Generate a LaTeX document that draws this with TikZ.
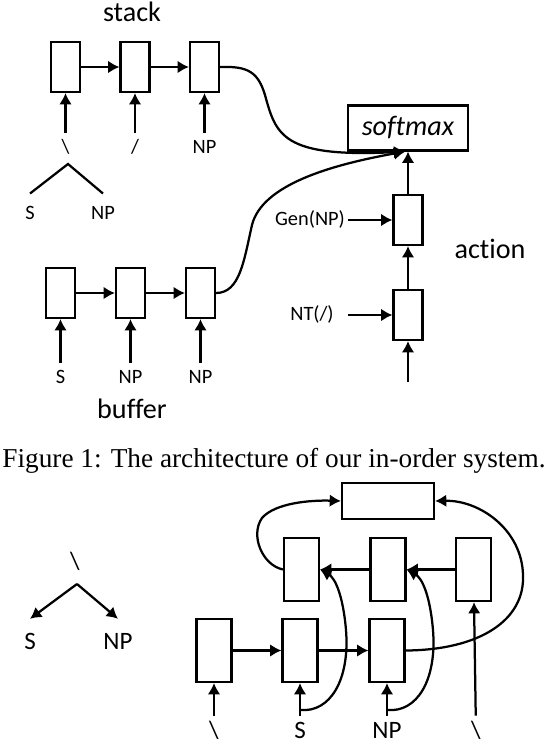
\documentclass[tikz,border=0pt]{standalone}
\usepackage{fontspec}
\setmainfont{Liberation Serif}
\newfontfamily\calibfont[Ligatures={NoCommon}]{Carlito}
\usetikzlibrary{arrows.meta}
\tikzset{
    cell/.style={
    rectangle,draw=black,line width=1.8pt,inner sep=0pt,
    minimum width=0.715cm,minimum height=1.24cm
    },
    tallcell/.style={
    rectangle,draw=black,line width=1.8pt,inner sep=0pt,
    minimum width=0.865cm,minimum height=1.565cm
    },
    outbox/.style={
    rectangle,draw=black,line width=1.8pt,inner sep=0pt
    },
    wordsm/.style={
    font=\calibfont\fontsize{14.5}{17}\selectfont,
    text height=11pt,text depth=3pt,inner xsep=2pt,inner ysep=3pt
    },
    wordbg/.style={
    font=\calibfont\fontsize{17.8}{21}\selectfont,
    text height=13.4pt,text depth=3.6pt,inner xsep=2pt,inner ysep=3pt
    },
    heading/.style={
    font=\calibfont\fontsize{20}{24}\selectfont,inner sep=0pt
    },
    flow/.style={
    line width=1.6pt
    },
}
\begin{document}
\begin{tikzpicture}[x=0.025cm, y=-0.025cm, >={Latex[length=8pt,width=9pt]}]
  \useasboundingbox (0,0) rectangle (548,744);
  % stack
  \node[heading] (stk) at (132,12) {stack};
  \node[cell] (s1) at (65.5,67) {};
  \node[cell] (s2) at (135,67) {};
  \node[cell] (s3) at (204.5,67) {};
  \node[wordsm] (ws1) at (65.5,147.5) {\textbackslash};
  \node[wordsm] (ws2) at (135,147.5) {/};
  \node[wordsm] (ws3) at (204.5,147.5) {NP};
  \coordinate (top1) at (68,164);
  \node[wordsm] (ts1) at (30,213.5) {S};
  \node[wordsm] (ts2) at (103,213.5) {NP};
  % buffer
  \node[cell] (b1) at (60.5,293) {};
  \node[cell] (b2) at (130.5,293) {};
  \node[cell] (b3) at (200.5,293) {};
  \node[wordsm] (wb1) at (60.5,377.5) {S};
  \node[wordsm] (wb2) at (130.5,377.5) {NP};
  \node[wordsm] (wb3) at (200.5,377.5) {NP};
  \node[heading] (buf) at (132,409) {buffer};
  % action
  \node[outbox,minimum width=2.99cm,minimum height=1.115cm,
        font=\calibfont\fontsize{20}{24}\selectfont] (sm) at (408,128) {\textit{softmax}};
  \node[cell] (g1) at (408,220) {};
  \node[cell] (n1) at (408,315) {};
  \node[wordsm] (gen) at (310,220) {Gen(NP)};
  \node[wordsm] (nt) at (312,315) {NT(/)};
  \coordinate (a0) at (408,382);
  \node[heading] (act) at (490,248.5) {action};

  \path[->,flow]
    (s1) edge (s2)
    (s2) edge (s3)
    (ws1) edge (s1)
    (ws2) edge (s2)
    (ws3) edge (s3)
    (b1) edge (b2)
    (b2) edge (b3)
    (wb1) edge (b1)
    (wb2) edge (b2)
    (wb3) edge (b3)
    (g1) edge (sm)
    (n1) edge (g1)
    (a0) edge (n1)
    (gen) edge (g1)
    (n1.west -| gen.east) edge (n1);
  \draw[flow] ([yshift=4pt]ts1.north) -- (top1) -- ([yshift=4pt]ts2.north);
  \draw[->,flow] (s3.east) .. controls (248,66) and (258,72) .. (265,95)
    .. controls (276,135) and (282,158) .. ([xshift=-2pt]sm.south);
  \draw[->,flow] (b3.east) .. controls (240,293) and (244,260) .. (252,225)
    .. controls (262,185) and (330,165) .. ([xshift=-2pt]sm.south);

  % caption
  \node[anchor=base,inner sep=0pt,font=\fontsize{19.4}{23}\selectfont] (cap) at (274,467)
    {Figure 1: The architecture of our in-order system.};

  % tree
  \node[wordbg] (tl) at (75,563) {\textbackslash};
  \coordinate (top2) at (77,584);
  \node[wordbg] (tl1) at (30,643) {S};
  \node[wordbg] (tl2) at (118,643) {NP};
  \path[->,flow]
    (top2) edge ([yshift=5.5pt]tl1.north)
           edge ([yshift=5.5pt]tl2.north);

  % composition
  \node[outbox,minimum width=2.29cm,minimum height=0.89cm] (tb) at (388,501) {};
  \node[tallcell] (m1) at (301.5,569.5) {};
  \node[tallcell] (m2) at (388,569.5) {};
  \node[tallcell] (m3) at (473.5,569.5) {};
  \node[tallcell] (c1) at (214,650.5) {};
  \node[tallcell] (c2) at (300,650.5) {};
  \node[tallcell] (c3) at (387,650.5) {};
  \node[wordbg] (wc1) at (214,732) {\textbackslash};
  \node[wordbg] (wc2) at (300,732) {S};
  \node[wordbg] (wc3) at (387,732) {NP};
  \node[wordbg] (wc4) at (476,732) {\textbackslash};

  \path[->,flow]
    (c1) edge (c2)
    (c2) edge (c3)
    (m3) edge (m2)
    (m2) edge (m1)
    (wc1) edge (c1)
    (wc2) edge (c2)
    (wc3) edge (c3)
    (wc4) edge (m3);
  \draw[->,flow] ([yshift=4pt]wc2.north) .. controls (330,713) and (350,680) .. (346,630)
    .. controls (343,595) and (335,578) .. (m1.east);
  \draw[->,flow] ([yshift=4pt]wc3.north) .. controls (417,713) and (437,680) .. (433,630)
    .. controls (430,595) and (422,578) .. (m2.east);
  \draw[->,flow] (c3.east) .. controls (480,650) and (525,620) .. (523,575)
    .. controls (522,530) and (480,500) .. (tb.east);
  \draw[->,flow] (m1.west) .. controls (262,565) and (250,535) .. (262,518)
    .. controls (275,503) and (310,500) .. (tb.west);
\end{tikzpicture}
\end{document}
